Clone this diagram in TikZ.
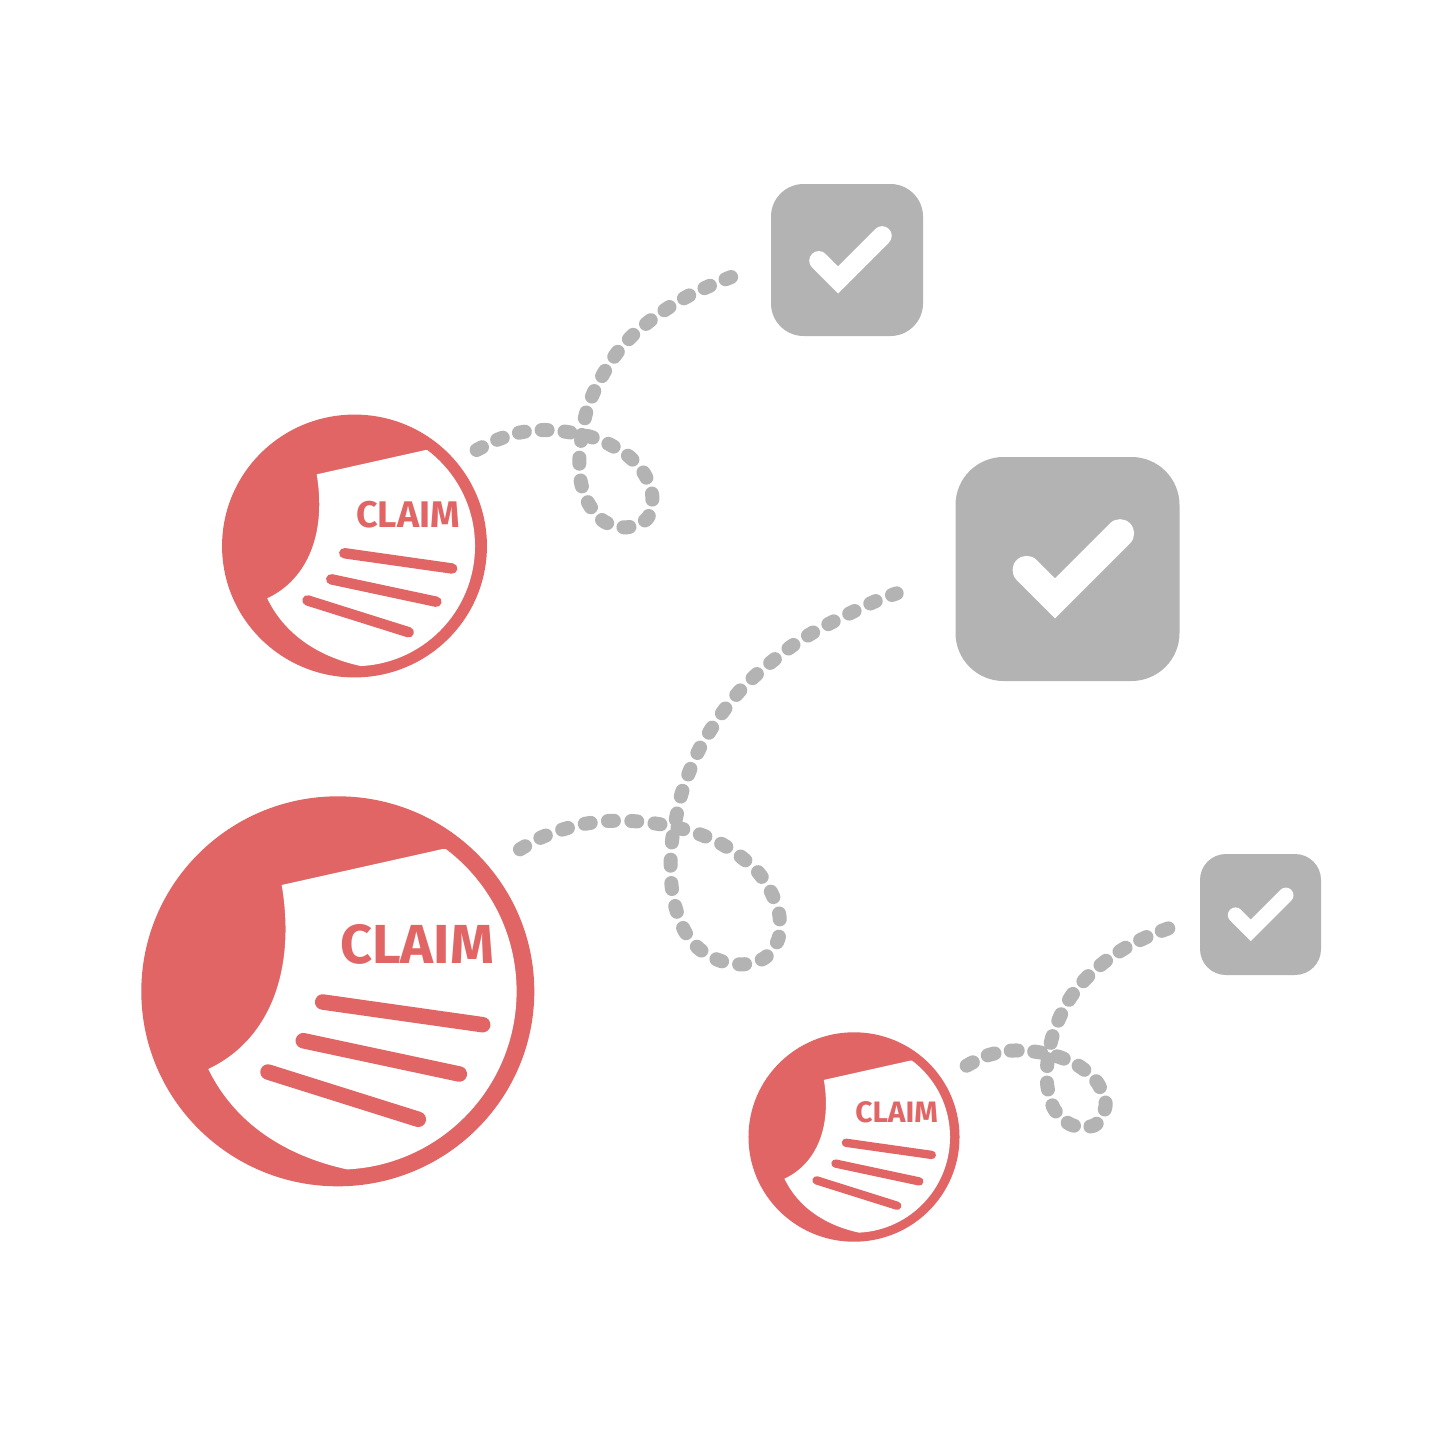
\documentclass[tikz,border=0pt]{standalone}
\usepackage{fontspec}
\setmainfont{Fira Sans}
\usetikzlibrary{shapes.geometric}
\definecolor{claimred}{HTML}{E16565}
\definecolor{tickgray}{HTML}{B3B3B3}
\tikzset{
  claimdisc/.style={ellipse,fill=claimred,inner sep=0pt,outer sep=0pt},
  claimrule/.style={draw=claimred,line cap=round},
  claimword/.style={text=claimred,inner sep=0pt,font=\bfseries\fontsize{55}{55}\selectfont,transform shape,xscale=1.015},
  tickbox/.style={rectangle,fill=tickgray,inner sep=0pt,outer sep=0pt},
  tickmark/.style={draw=white,line cap=round,miter limit=10},
  loopline/.style={draw=tickgray,line cap=round,line join=round,line width=14pt}
}
% name, cx, cy, scale
\newcommand{\claimicon}[4]{%
  \node[claimdisc,minimum width={393pt*#4},minimum height={390pt*#4}] (#1) at (#2,#3) {};
  \begin{scope}[shift={(#2,#3)},scale=#4]
    \begin{scope}
      \clip (0.5,0) circle[radius=178.3];
      \fill[white] (-56.1,-106.3) -- (105,-142.3) -- (250,-142.3) -- (250,250) -- (9,250) -- (9,178)
        .. controls (-42.8,166.7) and (-99.8,138.7) .. (-129.5,77.7)
        .. controls (-67.8,48.7) and (-41.8,-21.3) .. cycle;
    \end{scope}
    \draw[claimrule,line width={15.5pt*#4}] (-15.1,10.7) -- (144.9,33.4);
    \draw[claimrule,line width={15.5pt*#4}] (-34.5,49.4) -- (121.5,82.7);
    \draw[claimrule,line width={15.5pt*#4}] (-69.8,80.7) -- (80.5,128);
    \node[claimword] (#1word) at (79.4,-46.6) {CLAIM};
  \end{scope}}
% name, cx, cy, size, scale, check cx
\newcommand{\tickicon}[6]{%
  \node[tickbox,minimum size={#4pt},rounded corners={48pt*#5}] (#1) at (#2,#3) {};
  \begin{scope}[shift={(#6,#3)},scale=#5]
    \draw[tickmark,line width={28.3pt*#5}] (-40.8,1) -- (-12.5,29.3) -- (52.5,-35.7);
  \end{scope}}
\begin{document}
\begin{tikzpicture}[x=1pt,y=-1pt]
  \useasboundingbox[fill=white] (0,0) rectangle (1448,1448);
  \claimicon{claimA}{354.5}{546}{0.674}
  \claimicon{claimB}{337.8}{991.3}{1}
  \claimicon{claimC}{854}{1137}{0.537}
  \tickicon{tickA}{847}{260}{152}{0.679}{846.5}
  \tickicon{tickB}{1067.5}{569}{224}{1}{1067.5}
  \tickicon{tickC}{1260.5}{914.5}{121}{0.54}{1257.5}
  \begin{scope}[shift={(460,260)},scale=1/3]
    \coordinate (claimAout) at (50,570);
    \coordinate (tickAin) at (816,50);
    \draw[loopline,dash pattern=on 6pt off 16.9pt] plot[smooth,tension=0.5] coordinates {
      (claimAout) (110,540) (178,518) (247,510) (316,515) (390,530) (452,555) (510,592)
      (555,645) (577,710) (562,775) (500,802) (433,785) (387,733) (363,668) (358,600)
      (365,530) (378,460) (402,395) (435,333) (473,276) (520,224) (573,180) (630,140)
      (690,105) (755,75) (tickAin)};
  \end{scope}
  \begin{scope}[shift={(500,570)},scale=1/3]
    \coordinate (claimBout) at (60,838);
    \coordinate (tickBin) at (1190,70);
    \draw[loopline,dash pattern=on 6pt off 17.35pt] plot[smooth,tension=0.5] coordinates {
      (claimBout) (118,805) (183,780) (252,762) (322,753) (393,753) (463,760) (540,775)
      (600,793) (665,822) (725,862) (777,910) (815,970) (838,1035) (835,1107) (795,1163)
      (730,1183) (660,1172) (598,1137) (555,1085) (528,1017) (515,950) (512,877) (517,805)
      (530,735) (545,670) (570,600) (598,537) (635,475) (675,417) (720,362) (770,313)
      (825,267) (880,225) (940,187) (1005,152) (1070,120) (1130,92) (tickBin)};
  \end{scope}
  \begin{scope}[shift={(940,900)},scale=1/3]
    \coordinate (claimCout) at (80,497);
    \coordinate (tickCin) at (685,85);
    \draw[loopline,dash pattern=on 7pt off 16.5pt] plot[smooth,tension=0.5] coordinates {
      (claimCout) (140,467) (210,452) (285,455) (355,470) (420,500) (472,548) (497,615)
      (465,675) (395,675) (343,628) (322,558) (322,490) (335,417) (360,350) (395,287)
      (443,230) (497,183) (557,143) (622,110) (tickCin)};
  \end{scope}
\end{tikzpicture}
\end{document}
